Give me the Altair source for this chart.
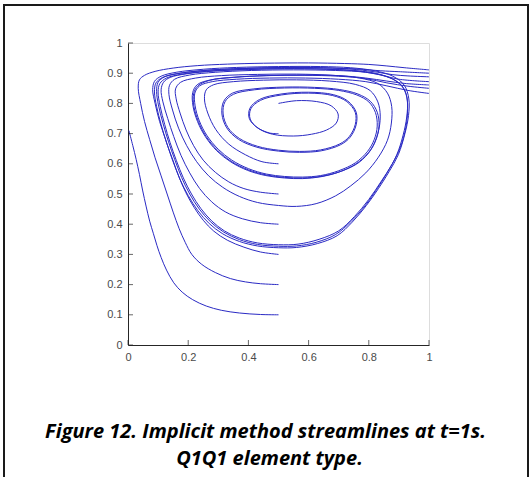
import altair as alt
import pandas as pd

# Streamlines seeded along x = 0.5 (flow circulates clockwise, driven by the lid)
sl_01 = [(0.500, 0.100), (0.440, 0.101), (0.370, 0.106), (0.310, 0.115), (0.260, 0.129), (0.215, 0.150),
         (0.180, 0.175), (0.152, 0.206), (0.128, 0.248), (0.110, 0.290), (0.096, 0.330), (0.084, 0.370),
         (0.072, 0.410), (0.060, 0.460), (0.049, 0.510), (0.038, 0.565), (0.027, 0.615), (0.016, 0.660),
         (0.003, 0.710)]

sl_02 = [(0.500, 0.200), (0.440, 0.203), (0.390, 0.209), (0.340, 0.220), (0.290, 0.240), (0.245, 0.267),
         (0.212, 0.300), (0.190, 0.340), (0.170, 0.385), (0.150, 0.440), (0.130, 0.500), (0.110, 0.560),
         (0.090, 0.620), (0.072, 0.680), (0.055, 0.740), (0.042, 0.800), (0.034, 0.850), (0.038, 0.878),
         (0.055, 0.893), (0.090, 0.906), (0.150, 0.917), (0.230, 0.925), (0.330, 0.930), (0.450, 0.933),
         (0.600, 0.934), (0.720, 0.932), (0.800, 0.929), (0.860, 0.924), (0.920, 0.918), (1.000, 0.911)]

sl_03 = [(0.500, 0.300), (0.440, 0.308), (0.385, 0.324), (0.330, 0.347), (0.285, 0.377), (0.250, 0.413),
         (0.220, 0.455), (0.192, 0.505), (0.168, 0.560), (0.145, 0.620), (0.125, 0.680), (0.105, 0.740),
         (0.090, 0.800), (0.082, 0.845), (0.088, 0.873), (0.110, 0.890), (0.160, 0.903), (0.250, 0.913),
         (0.360, 0.919), (0.500, 0.922), (0.640, 0.922), (0.740, 0.918), (0.820, 0.908), (0.880, 0.890),
         (0.918, 0.860), (0.933, 0.815), (0.932, 0.760), (0.920, 0.700), (0.898, 0.630), (0.868, 0.575),
         (0.832, 0.518), (0.792, 0.462), (0.745, 0.407), (0.695, 0.362), (0.630, 0.336), (0.560, 0.323),
         (0.500, 0.322), (0.430, 0.328), (0.370, 0.343), (0.315, 0.368), (0.270, 0.402), (0.232, 0.445),
         (0.200, 0.495), (0.172, 0.550), (0.150, 0.610), (0.128, 0.670), (0.110, 0.730), (0.095, 0.790),
         (0.088, 0.838), (0.093, 0.868), (0.115, 0.886), (0.165, 0.899), (0.255, 0.909), (0.370, 0.915),
         (0.500, 0.918), (0.640, 0.918), (0.760, 0.914), (0.840, 0.908), (0.900, 0.905), (1.000, 0.900)]

sl_04 = [(0.500, 0.400), (0.440, 0.405), (0.380, 0.418), (0.325, 0.440), (0.278, 0.474), (0.238, 0.518),
         (0.205, 0.570), (0.176, 0.628), (0.152, 0.690), (0.132, 0.750), (0.116, 0.805), (0.110, 0.845),
         (0.118, 0.870), (0.140, 0.886), (0.195, 0.898), (0.285, 0.907), (0.400, 0.912), (0.520, 0.915),
         (0.650, 0.914), (0.750, 0.909), (0.825, 0.899), (0.880, 0.880), (0.915, 0.852), (0.928, 0.810),
         (0.926, 0.755), (0.914, 0.695), (0.893, 0.630), (0.862, 0.572), (0.826, 0.515), (0.787, 0.460),
         (0.740, 0.408), (0.690, 0.366), (0.625, 0.340), (0.560, 0.328), (0.500, 0.327), (0.430, 0.333),
         (0.370, 0.349), (0.318, 0.374), (0.274, 0.408), (0.237, 0.450), (0.205, 0.500), (0.178, 0.555),
         (0.155, 0.615), (0.134, 0.675), (0.116, 0.735), (0.101, 0.795), (0.095, 0.840), (0.100, 0.870),
         (0.122, 0.888), (0.175, 0.900), (0.265, 0.910), (0.380, 0.916), (0.510, 0.919), (0.650, 0.918),
         (0.760, 0.912), (0.830, 0.903), (0.880, 0.895), (0.930, 0.891), (1.000, 0.888)]

sl_05 = [(0.500, 0.500), (0.440, 0.506), (0.385, 0.518), (0.335, 0.540), (0.290, 0.572), (0.250, 0.612),
         (0.218, 0.660), (0.193, 0.712), (0.173, 0.768), (0.160, 0.815), (0.158, 0.848), (0.175, 0.870),
         (0.225, 0.884), (0.310, 0.892), (0.430, 0.896), (0.560, 0.897), (0.680, 0.893), (0.770, 0.884),
         (0.830, 0.866), (0.862, 0.834), (0.876, 0.790), (0.875, 0.735), (0.862, 0.678), (0.832, 0.622),
         (0.790, 0.570), (0.740, 0.527), (0.690, 0.494), (0.625, 0.468), (0.560, 0.459), (0.500, 0.462),
         (0.430, 0.472), (0.370, 0.492), (0.315, 0.522), (0.268, 0.560), (0.228, 0.607), (0.195, 0.660),
         (0.168, 0.718), (0.148, 0.778), (0.136, 0.830), (0.138, 0.860), (0.155, 0.880), (0.205, 0.894),
         (0.290, 0.903), (0.410, 0.909), (0.550, 0.911), (0.690, 0.909), (0.790, 0.903), (0.855, 0.890),
         (0.900, 0.868), (0.924, 0.830), (0.929, 0.780), (0.923, 0.720), (0.905, 0.655), (0.877, 0.598),
         (0.840, 0.540), (0.800, 0.482), (0.752, 0.425), (0.700, 0.378), (0.635, 0.350), (0.565, 0.334),
         (0.500, 0.332), (0.430, 0.338), (0.370, 0.354), (0.320, 0.378), (0.278, 0.411), (0.242, 0.452),
         (0.211, 0.500), (0.184, 0.553), (0.161, 0.610), (0.140, 0.670), (0.122, 0.730), (0.107, 0.790),
         (0.100, 0.838), (0.106, 0.866), (0.128, 0.884), (0.180, 0.897), (0.270, 0.907), (0.390, 0.913),
         (0.520, 0.915), (0.660, 0.913), (0.770, 0.906), (0.840, 0.894), (0.900, 0.880), (1.000, 0.872)]

sl_06 = [(0.500, 0.600), (0.445, 0.607), (0.390, 0.630), (0.335, 0.665), (0.292, 0.713), (0.265, 0.768),
         (0.254, 0.815), (0.260, 0.845), (0.285, 0.862), (0.350, 0.872), (0.450, 0.877), (0.560, 0.878),
         (0.670, 0.874), (0.755, 0.863), (0.805, 0.842), (0.830, 0.805), (0.838, 0.758), (0.830, 0.700),
         (0.808, 0.648), (0.768, 0.605), (0.710, 0.576), (0.645, 0.559), (0.580, 0.553), (0.520, 0.555),
         (0.460, 0.563), (0.400, 0.580), (0.345, 0.607), (0.298, 0.644), (0.260, 0.690), (0.234, 0.740),
         (0.219, 0.790), (0.218, 0.832), (0.232, 0.858), (0.270, 0.876), (0.350, 0.886), (0.460, 0.892),
         (0.580, 0.894), (0.700, 0.892), (0.790, 0.884), (0.860, 0.874), (0.920, 0.866), (1.000, 0.861)]

sl_07 = [(0.500, 0.700), (0.470, 0.702), (0.428, 0.721), (0.403, 0.750), (0.405, 0.784), (0.437, 0.813),
         (0.508, 0.831), (0.600, 0.837), (0.682, 0.829), (0.730, 0.808), (0.758, 0.771), (0.758, 0.729),
         (0.738, 0.688), (0.706, 0.663), (0.642, 0.643), (0.570, 0.638), (0.500, 0.642), (0.428, 0.655),
         (0.367, 0.681), (0.328, 0.719), (0.312, 0.765), (0.318, 0.807), (0.347, 0.834), (0.418, 0.848),
         (0.520, 0.854), (0.620, 0.853), (0.702, 0.846), (0.764, 0.831), (0.805, 0.807), (0.828, 0.771),
         (0.834, 0.725), (0.823, 0.678), (0.799, 0.637), (0.758, 0.600), (0.702, 0.573), (0.640, 0.557),
         (0.580, 0.551), (0.520, 0.553), (0.458, 0.561), (0.398, 0.578), (0.342, 0.606), (0.295, 0.643),
         (0.257, 0.690), (0.231, 0.740), (0.216, 0.791), (0.215, 0.836), (0.230, 0.862), (0.275, 0.878),
         (0.355, 0.887), (0.465, 0.892), (0.585, 0.893), (0.700, 0.890), (0.790, 0.882), (0.860, 0.868),
         (0.930, 0.857), (1.000, 0.850)]

sl_08 = [(0.500, 0.800), (0.560, 0.809), (0.627, 0.806), (0.675, 0.792), (0.698, 0.765), (0.692, 0.735),
         (0.660, 0.712), (0.610, 0.698), (0.549, 0.692), (0.480, 0.698), (0.432, 0.718), (0.406, 0.748),
         (0.408, 0.782), (0.440, 0.810), (0.510, 0.828), (0.600, 0.834), (0.680, 0.826), (0.727, 0.806),
         (0.755, 0.770), (0.755, 0.730), (0.735, 0.690), (0.704, 0.666), (0.640, 0.646), (0.570, 0.641),
         (0.500, 0.645), (0.430, 0.658), (0.370, 0.684), (0.332, 0.720), (0.316, 0.765), (0.322, 0.805),
         (0.350, 0.830), (0.420, 0.845), (0.520, 0.851), (0.620, 0.850), (0.700, 0.843), (0.760, 0.828),
         (0.800, 0.805), (0.822, 0.770), (0.828, 0.725), (0.818, 0.680), (0.795, 0.640), (0.755, 0.603),
         (0.700, 0.577), (0.640, 0.561), (0.580, 0.556), (0.520, 0.558), (0.460, 0.566), (0.400, 0.584),
         (0.345, 0.612), (0.300, 0.648), (0.262, 0.694), (0.237, 0.742), (0.223, 0.792), (0.222, 0.834),
         (0.238, 0.858), (0.280, 0.872), (0.360, 0.880), (0.470, 0.884), (0.590, 0.884), (0.700, 0.880),
         (0.790, 0.872), (0.860, 0.858), (0.930, 0.843), (1.000, 0.833)]

streamlines = {"s01": sl_01, "s02": sl_02, "s03": sl_03, "s04": sl_04,
               "s05": sl_05, "s06": sl_06, "s07": sl_07, "s08": sl_08}

x_ticks = [0, 0.2, 0.4, 0.6, 0.8, 1]
y_ticks = [0, 0.1, 0.2, 0.3, 0.4, 0.5, 0.6, 0.7, 0.8, 0.9, 1]

caption_1 = "Figure 12. Implicit method streamlines at t=1s."
caption_2 = "Q1Q1 element type."

rows = []
for name, pts in streamlines.items():
    for i, (px, py) in enumerate(pts):
        rows.append({"line": name, "step": i, "x": px, "y": py})
df = pd.DataFrame(rows)

W, H = 301, 302
x_scale = alt.Scale(domain=[0, 1], nice=False, zero=False)
y_scale = alt.Scale(domain=[0, 1], nice=False, zero=False)

axis_style = dict(grid=False, ticks=False, domainColor="#262626", domainWidth=1,
                  labelColor="#4a4a4a", labelFont="Liberation Sans", labelFontSize=11,
                  labelPadding=6, format="~g", title=None)
x_axis = alt.Axis(values=x_ticks, labelFlush=False, **axis_style)
y_axis = alt.Axis(values=y_ticks, labelFlush=False, **axis_style)

lines = alt.Chart(df).mark_line(
    interpolate="catmull-rom", color="#2a2ac4", strokeWidth=1.0, clip=True
).encode(
    x=alt.X("x:Q", scale=x_scale, axis=x_axis),
    y=alt.Y("y:Q", scale=y_scale, axis=y_axis),
    detail="line:N",
    order="step:Q",
)

# inward tick marks, MATLAB style
xt = alt.Chart(pd.DataFrame({"x": x_ticks})).mark_tick(
    orient="vertical", color="#262626", size=5, thickness=1
).encode(x=alt.X("x:Q", scale=x_scale, axis=x_axis), y=alt.value(H - 2.5))
yt = alt.Chart(pd.DataFrame({"y": y_ticks})).mark_tick(
    orient="horizontal", color="#262626", size=5, thickness=1
).encode(y=alt.Y("y:Q", scale=y_scale, axis=y_axis), x=alt.value(2.5))

# figure frame around plot and caption
frame = alt.Chart(alt.Data(values=[{}])).mark_rect(
    filled=False, stroke="#1a1a1a", strokeWidth=2
).encode(x=alt.value(-124), x2=alt.value(400), y=alt.value(-38), y2=alt.value(446))

cap_style = dict(font="Open Sans", fontSize=20, fontStyle="italic", fontWeight="bold",
                 color="#000000", align="center", baseline="middle")
cap1 = alt.Chart(alt.Data(values=[{"t": caption_1}])).mark_text(**cap_style).encode(
    text="t:N", x=alt.value(W / 2 - 13), y=alt.value(388.5))
cap2 = alt.Chart(alt.Data(values=[{"t": caption_2}])).mark_text(**cap_style).encode(
    text="t:N", x=alt.value(W / 2 - 9), y=alt.value(415.5))

chart = alt.layer(frame, lines, xt, yt, cap1, cap2).properties(
    width=W, height=H,
    padding={"left": 128, "top": 43, "right": 102, "bottom": 132},
    autosize=alt.AutoSizeParams(type="none"),
).configure_view(stroke="#9a9a9a", strokeWidth=1).configure(background="white")

chart.save("out.html", embed_options={"renderer": "svg", "actions": False})
